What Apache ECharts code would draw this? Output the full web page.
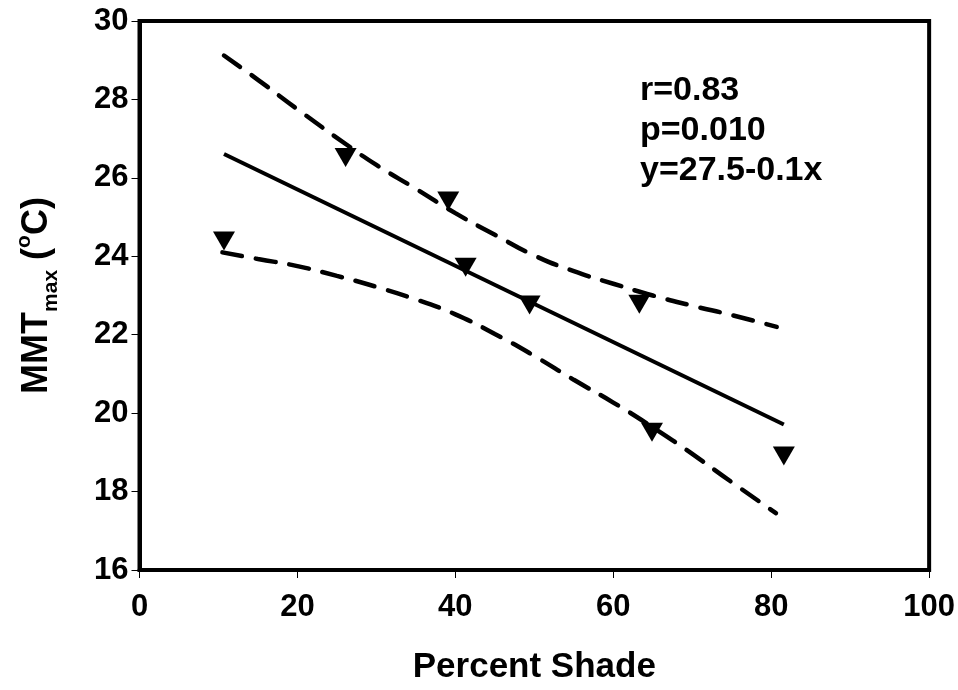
<!DOCTYPE html>
<html>
<head>
<meta charset="utf-8">
<script src="https://cdn.jsdelivr.net/npm/echarts@6/dist/echarts.min.js"></script>
<style>
  html, body { margin: 0; padding: 0; background: #fff; }
  #chart { width: 958px; height: 690px; }
</style>
</head>
<body>
<div id="chart"></div>
<script>
  // observed points (percent shade, MMTmax)
  const shade = [10.7, 26.1, 39.1, 41.3, 49.4, 63.3, 64.9, 81.6];
  const mmtMax = [24.39, 26.52, 25.41, 23.72, 22.76, 22.78, 19.51, 18.91];

  // fitted line end points
  const fitLine = [[10.7, 26.61], [81.6, 19.71]];

  // 95% confidence band
  const upperBand = [
    [10.7, 29.12], [15, 28.5], [20, 27.75], [26.2, 26.85], [30, 26.33],
    [35, 25.72], [40, 25.1], [45, 24.55], [50, 24.02], [55, 23.62],
    [60, 23.3], [65, 23.0], [70, 22.74], [75, 22.5], [80.7, 22.2]
  ];
  const lowerBand = [
    [10.5, 24.1], [15, 23.93], [20, 23.75], [25, 23.5], [30, 23.22],
    [35, 22.9], [40, 22.52], [45, 22.02], [50, 21.46], [55, 20.85],
    [60, 20.27], [65, 19.64], [70, 18.96], [75, 18.24], [80.6, 17.45]
  ];

  const xTicks = [0, 20, 40, 60, 80, 100];
  const yTicks = [16, 18, 20, 22, 24, 26, 28, 30];
  const statsLines = ['r=0.83', 'p=0.010', 'y=27.5-0.1x'];

  const font = 'Liberation Sans, Arial, sans-serif';
  const chart = echarts.init(document.getElementById('chart'), null, { renderer: 'canvas' });

  const dashStyle = { color: '#000', width: 4.5, type: [20, 14], cap: 'round' };

  chart.setOption({
    animation: false,
    grid: {
      left: 139.5, right: 27.5, top: 21, bottom: 118,
      show: true, borderColor: '#000', borderWidth: 4, backgroundColor: '#fff'
    },
    xAxis: {
      type: 'value',
      min: xTicks[0], max: xTicks[xTicks.length - 1], interval: 20,
      splitLine: { show: false },
      axisLine: { lineStyle: { color: '#000', width: 4 } },
      axisTick: { length: 8, lineStyle: { color: '#000', width: 1 } },
      axisLabel: { color: '#000', fontSize: 31, fontWeight: 'bold', fontFamily: font, margin: 22 },
      name: 'Percent Shade',
      nameLocation: 'middle',
      nameGap: 80,
      nameTextStyle: { color: '#000', fontSize: 35, fontWeight: 'bold', fontFamily: font }
    },
    yAxis: {
      type: 'value',
      min: yTicks[0], max: yTicks[yTicks.length - 1], interval: 2,
      splitLine: { show: false },
      axisLine: { lineStyle: { color: '#000', width: 4 } },
      axisTick: { length: 8, lineStyle: { color: '#000', width: 1 } },
      axisLabel: { color: '#000', fontSize: 31, fontWeight: 'bold', fontFamily: font, margin: 11 },
      name: '{b|MMT}{sub|max}{b| (}{sup|o}{b|C)}',
      nameLocation: 'middle',
      nameRotate: 90,
      nameGap: 78,
      nameTextStyle: {
        rich: {
          b: { color: '#000', fontSize: 36, fontWeight: 'bold', fontFamily: font, lineHeight: 48 },
          sub: { color: '#000', fontSize: 21, fontWeight: 'bold', fontFamily: font, verticalAlign: 'bottom', lineHeight: 26 },
          sup: { color: '#000', fontSize: 21, fontWeight: 'bold', fontFamily: font, verticalAlign: 'top', lineHeight: 32 }
        }
      }
    },
    graphic: statsLines.map((t, i) => ({
      type: 'text',
      left: 640,
      top: 74 + i * 40,
      style: { text: t, fill: '#000', fontSize: 34, fontWeight: 'bold', fontFamily: font }
    })),
    series: [
      {
        type: 'line', data: upperBand, smooth: true, symbol: 'none',
        lineStyle: dashStyle, z: 2
      },
      {
        type: 'line', data: lowerBand, smooth: true, symbol: 'none',
        lineStyle: dashStyle, z: 2
      },
      {
        type: 'line', data: fitLine, symbol: 'none',
        lineStyle: { color: '#000', width: 4 }, z: 2
      },
      {
        type: 'scatter',
        data: shade.map((x, i) => [x, mmtMax[i]]),
        symbol: 'triangle', symbolRotate: 180, symbolSize: [22, 19],
        itemStyle: { color: '#000', opacity: 1 }, z: 5
      }
    ]
  });
</script>
</body>
</html>
